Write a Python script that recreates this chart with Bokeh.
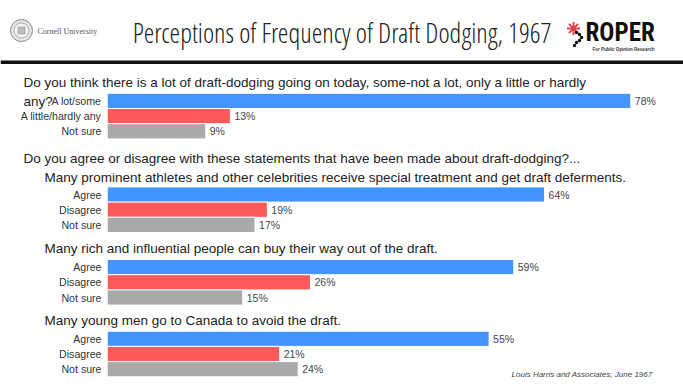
from bokeh.plotting import figure
from bokeh.models import Range1d, ColumnDataSource, Span
from bokeh.core.properties import value
from bokeh.embed import file_html
from bokeh.resources import INLINE

# ---------------- data ----------------
TITLE = "Perceptions of Frequency of Draft Dodging, 1967"
Q1_TEXT = "Do you think there is a lot of draft-dodging going on today, some-not a lot, only a little or hardly"
Q1_TAIL = "any?"
Q1_LABELS = ["A lot/some", "A little/hardly any", "Not sure"]
Q1_VALUES = [78, 13, 9]

INTRO_TEXT = "Do you agree or disagree with these statements that have been made about draft-dodging?..."
AGREE_LABELS = ["Agree", "Disagree", "Not sure"]
Q2_TEXT = "Many prominent athletes and other celebrities receive special treatment and get draft deferments."
Q2_VALUES = [64, 19, 17]
Q3_TEXT = "Many rich and influential people can buy their way out of the draft."
Q3_VALUES = [59, 26, 15]
Q4_TEXT = "Many young men go to Canada to avoid the draft."
Q4_VALUES = [55, 21, 24]

SOURCE = "Louis Harris and Associates, June 1967"
COLORS = ["#4394FF", "#FF5A5A", "#A9A9A9"]

# ---------------- layout ----------------
W, H = 683, 390
AXIS_MIN = -7.0          # value-axis minimum where bars start
BAR_LEFT_PX = 106.7
PX_PER_UNIT = 6.16
X0 = AXIS_MIN - BAR_LEFT_PX / PX_PER_UNIT
X1 = X0 + W / PX_PER_UNIT
PITCH = 15.2
FONT = value("Liberation Sans")

p = figure(width=W, height=H, x_range=Range1d(X0, X1), y_range=Range1d(H, 0),
           output_backend="svg", toolbar_location=None, min_border=0,
           x_axis_location=None, y_axis_location=None, outline_line_color=None,
           background_fill_color="white", border_fill_color="white")
p.grid.visible = False
p.extra_x_ranges = {"px": Range1d(0, W)}

panels = [
    (Q1_LABELS, Q1_VALUES, 100.4),
    (AGREE_LABELS, Q2_VALUES, 194.0),
    (AGREE_LABELS, Q3_VALUES, 266.6),
    (AGREE_LABELS, Q4_VALUES, 338.3),
]
ys, vs, cats, cols, vls = [], [], [], [], []
for labels, vals, y0 in panels:
    for i, (lab, v) in enumerate(zip(labels, vals)):
        ys.append(y0 + i * PITCH)
        vs.append(v)
        cats.append(lab)
        cols.append(COLORS[i])
        vls.append(f"{v}%")
src = ColumnDataSource(dict(y=ys, v=vs, cat=cats, color=cols, vl=vls))

p.hbar(y="y", left=AXIS_MIN, right="v", height=PITCH, fill_color="color",
       line_color="white", line_width=1, source=src)
p.text(x="v", y="y", text="vl", x_offset=4, text_align="left", text_baseline="middle",
       text_font=FONT, text_font_size="10.5px", text_color="#444444", source=src)
p.text(x=101, y="y", text="cat", x_range_name="px", text_align="right",
       text_baseline="middle", text_font=FONT, text_font_size="10.6px",
       text_color="#333333", source=src)

# question texts
qsrc = ColumnDataSource(dict(
    x=[23, 23, 23, 44, 44, 44],
    y=[82, 100.6, 158, 176.7, 248, 320],
    t=[Q1_TEXT, Q1_TAIL, INTRO_TEXT, Q2_TEXT, Q3_TEXT, Q4_TEXT],
))
p.text(x="x", y="y", text="t", x_range_name="px", text_align="left",
       text_baseline="middle", text_font=FONT, text_font_size="13.5px",
       text_color="#222222", source=qsrc)

# source note
p.text(x=[652], y=[374], text=[SOURCE], x_range_name="px", text_align="right",
       text_baseline="middle", text_font=FONT, text_font_size="8px",
       text_font_style="italic", text_color="#444444")

# ---------------- header ----------------
p.text(x=[341.5], y=[32], text=[TITLE], x_range_name="px", text_align="center",
       text_baseline="middle", text_font=value("Open Sans Condensed Light"),
       text_font_size="27px", text_color="#222222")

# Cornell seal + wordmark
p.scatter(x=[21], y=[30], x_range_name="px", size=22, marker="circle",
          fill_color="#e6e6e6", line_color="#8a8a8a", line_width=1)
p.scatter(x=[21], y=[30], x_range_name="px", size=15, marker="circle",
          fill_color="#f4f4f4", line_color="#9a9a9a", line_width=0.8)
p.scatter(x=[21], y=[30], x_range_name="px", size=7, marker="square",
          fill_color="#bdbdbd", line_color="#8a8a8a", line_width=0.5)
p.text(x=[37], y=[31], text=["Cornell University"], x_range_name="px",
       text_align="left", text_baseline="middle", text_font=value("Liberation Serif"),
       text_font_size="8px", text_color="#555555")

# Roper logo
p.scatter(x=[573], y=[28], x_range_name="px", size=13, marker="asterisk",
          line_color="#e0404a", line_width=2)
p.scatter(x=[576, 579, 581, 579, 576, 574], y=[32, 34, 37, 40, 42, 45], x_range_name="px",
          size=3.5, marker="circle", fill_color="#111111", line_color=None)
p.text(x=[585], y=[32], text=["ROPER"], x_range_name="px", text_align="left",
       text_baseline="middle", text_font=value("Roboto Condensed"),
       text_font_size="25px", text_font_style="bold", text_color="#111111")
p.text(x=[623], y=[48.5], text=["For Public Opinion Research"], x_range_name="px",
       text_align="center", text_baseline="middle", text_font=FONT,
       text_font_size="4.5px", text_font_style="bold", text_color="#333333")

p.add_layout(Span(location=61.7, dimension="width", line_color="#111111", line_width=3.5))

open("out.html", "w").write(file_html(p, INLINE))
